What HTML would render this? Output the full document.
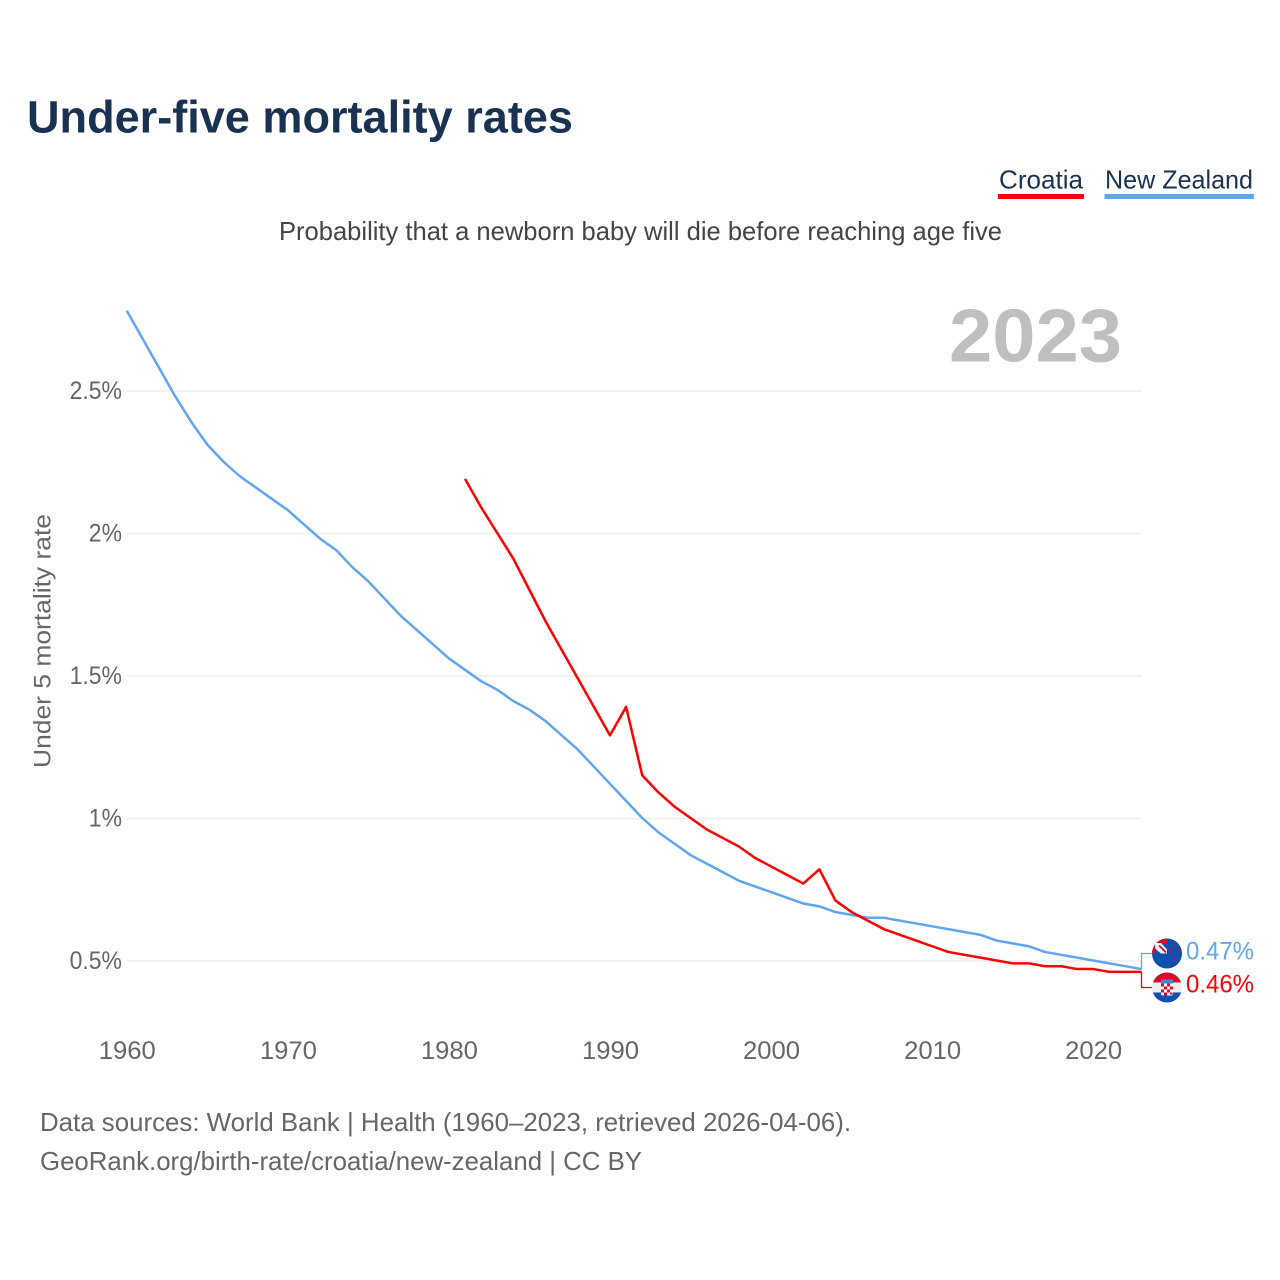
<!DOCTYPE html>
<html lang="en">
<head>
<meta charset="utf-8">
<title>Under-five mortality rates</title>
<style>
html,body{margin:0;padding:0;background:#fff;}
svg{display:block;font-family:"Liberation Sans",sans-serif;}
</style>
</head>
<body>
<svg id="chart" xmlns="http://www.w3.org/2000/svg" width="1280" height="1280" viewBox="0 0 1280 1280">
  <defs>
    <clipPath id="clip-nz"><circle cx="0" cy="0" r="15"/></clipPath>
    <clipPath id="clip-hr"><circle cx="0" cy="0" r="15"/></clipPath>
  </defs>
  <rect width="1280" height="1280" fill="#fff"/>
  <text x="27" y="132.500" font-size="45" font-weight="700" fill="#1a3252" textLength="546" lengthAdjust="spacingAndGlyphs">Under-five mortality rates</text>

  <g>
    <text x="999" y="188.500" font-size="26" fill="#1a3252" textLength="84" lengthAdjust="spacingAndGlyphs">Croatia</text>
    <rect x="998" y="194" width="86" height="5" fill="#ff0000"/>
  </g>
  <g>
    <text x="1105" y="188.500" font-size="26" fill="#1a3252" textLength="148" lengthAdjust="spacingAndGlyphs">New Zealand</text>
    <rect x="1104.500" y="194" width="149.500" height="5" fill="#60a5f0"/>
  </g>

  <text x="279" y="240" font-size="26" fill="#444" textLength="723" lengthAdjust="spacingAndGlyphs">Probability that a newborn baby will die before reaching age five</text>
  <text x="949" y="361.500" font-size="75" font-weight="700" fill="#bfbfbf" textLength="173" lengthAdjust="spacingAndGlyphs">2023</text>

  <g id="grid"></g>
  <g id="y-axis"></g>
  <g id="x-axis"></g>
  <text transform="translate(50.500,641) rotate(-90)" text-anchor="middle" font-size="24.500" fill="#666" textLength="254" lengthAdjust="spacingAndGlyphs">Under 5 mortality rate</text>

  <g id="series"></g>
  <g id="connectors"></g>

  <g id="flag-nz">
    <g clip-path="url(#clip-nz)">
      <rect x="-15" y="-15" width="30" height="30" fill="#0b4fb0"/>
      <rect x="-15" y="-15" width="15" height="15" fill="#d80a2e"/>
      <rect x="-12" y="-10.500" width="12" height="10.500" fill="#f2f2f2"/>
      <path d="M-8-8L-1-1" stroke="#d80a2e" stroke-width="1.800"/>
      <path d="M-6-10.500H0V-4Z" fill="#0b4fb0"/>
      <path d="M-12-5L-6 0H-12Z" fill="#0b4fb0"/>
      <circle cx="3" cy="-2" r="1.300" fill="#d80a2e"/>
      <circle cx="11" cy="-2" r="1.300" fill="#d80a2e"/>
      <circle cx="7" cy="-7" r="1.300" fill="#d80a2e"/>
      <circle cx="7" cy="6" r="1.600" fill="#d80a2e"/>
    </g>
  </g>
  <g id="flag-hr">
    <g clip-path="url(#clip-hr)">
      <rect x="-15" y="-15" width="30" height="10" fill="#d80a2e"/>
      <rect x="-15" y="-5" width="30" height="10" fill="#eeeeee"/>
      <rect x="-15" y="5" width="30" height="10" fill="#0b4fb0"/>
      <rect x="-6" y="-8" width="12" height="4" fill="#5580c8"/>
      <rect x="-6" y="-4" width="12" height="12" rx="2" fill="#fff"/>
      <path d="M-6-4h3v3h-3zM0-4h3v3h-3zM-3-1h3v3h-3zM3-1h3v3h-3zM-6 2h3v3h-3zM0 2h3v3h-3zM-3 5h3v3h-3zM3 5h2.500v2h-2.500z" fill="#d80a2e"/>
    </g>
  </g>
  <text id="label-nz" x="1186" font-size="25" fill="#60a5f0" textLength="68" lengthAdjust="spacingAndGlyphs"></text>
  <text id="label-hr" x="1186" font-size="25" fill="#ff0000" textLength="68" lengthAdjust="spacingAndGlyphs"></text>

  <g>
    <text x="40" y="1131" font-size="26" fill="#666" textLength="811" lengthAdjust="spacingAndGlyphs">Data sources: World Bank | Health (1960–2023, retrieved 2026-04-06).</text>
    <text x="40" y="1170" font-size="26" fill="#666" textLength="602" lengthAdjust="spacingAndGlyphs">GeoRank.org/birth-rate/croatia/new-zealand | CC BY</text>
  </g>
</svg>
<script>
const yTicks = [0.5, 1, 1.5, 2, 2.5];
const yTickLabels = ['0.5%', '1%', '1.5%', '2%', '2.5%'];
const xTicks = [1960, 1970, 1980, 1990, 2000, 2010, 2020];
const nzStartYear = 1960;
const nzValues = [2.78,2.68,2.58,2.48,2.39,2.31,2.25,2.20,2.16,2.12,2.08,2.03,1.98,1.94,1.88,1.83,1.77,1.71,1.66,1.61,1.56,1.52,1.48,1.45,1.41,1.38,1.34,1.29,1.24,1.18,1.12,1.06,1.00,0.95,0.91,0.87,0.84,0.81,0.78,0.76,0.74,0.72,0.70,0.69,0.67,0.66,0.65,0.65,0.64,0.63,0.62,0.61,0.60,0.59,0.57,0.56,0.55,0.53,0.52,0.51,0.50,0.49,0.48,0.47];
const hrStartYear = 1981;
const hrValues = [2.19,2.09,2.00,1.91,1.80,1.69,1.59,1.49,1.39,1.29,1.39,1.15,1.09,1.04,1.00,0.96,0.93,0.90,0.86,0.83,0.80,0.77,0.82,0.71,0.67,0.64,0.61,0.59,0.57,0.55,0.53,0.52,0.51,0.50,0.49,0.49,0.48,0.48,0.47,0.47,0.46,0.46,0.46];

const NS = 'http://www.w3.org/2000/svg';
function xScale(year) { return 126.8 + (year - 1960) * (1141.5 - 126.8) / 63; }
function yScale(v) { return 960.5 - (v - 0.5) * 285; }
function gridY(v) { return 961 - (v - 0.5) * 285; }
function toPoints(startYear, values) {
  return values.map(function (v, i) {
    return xScale(startYear + i).toFixed(2) + ',' + yScale(v).toFixed(2);
  }).join(' ');
}
function make(tag, parent) {
  const el = document.createElementNS(NS, tag);
  parent.appendChild(el);
  return el;
}

const grid = document.getElementById('grid');
const yAxis = document.getElementById('y-axis');
yTicks.forEach(function (t, i) {
  const line = make('line', grid);
  
  
  line.setAttribute('x1', 127);
  line.setAttribute('x2', 1141.5);
  line.setAttribute('y1', gridY(t));
  line.setAttribute('y2', gridY(t));
  line.setAttribute('stroke', '#eeeeee');
  line.setAttribute('stroke-width', 1.5);
  const label = make('text', yAxis);
  
  
  label.setAttribute('x', 122);
  label.setAttribute('y', gridY(t) + 8);
  label.setAttribute('text-anchor', 'end');
  label.setAttribute('font-size', 25);
  label.setAttribute('fill', '#666');
  label.textContent = yTickLabels[i];
  label.setAttribute('textLength', (label.getComputedTextLength() * 0.92).toFixed(1));
  label.setAttribute('lengthAdjust', 'spacingAndGlyphs');
});

const xAxis = document.getElementById('x-axis');
xTicks.forEach(function (t) {
  const label = make('text', xAxis);
  
  
  label.setAttribute('x', xScale(t) + 0.5);
  label.setAttribute('y', 1059);
  label.setAttribute('text-anchor', 'middle');
  label.setAttribute('font-size', 25);
  label.setAttribute('fill', '#666');
  label.setAttribute('textLength', 57);
  label.setAttribute('lengthAdjust', 'spacingAndGlyphs');
  label.textContent = String(t);
});

const series = document.getElementById('series');
const nzLine = make('polyline', series);


nzLine.setAttribute('points', toPoints(nzStartYear, nzValues));
nzLine.setAttribute('fill', 'none');
nzLine.setAttribute('stroke', '#60a5f0');
nzLine.setAttribute('stroke-width', 2.5);
nzLine.setAttribute('stroke-linejoin', 'round');
const hrLine = make('polyline', series);


hrLine.setAttribute('points', toPoints(hrStartYear, hrValues));
hrLine.setAttribute('fill', 'none');
hrLine.setAttribute('stroke', '#ff0000');
hrLine.setAttribute('stroke-width', 2.5);
hrLine.setAttribute('stroke-linejoin', 'round');

const nzLast = nzValues[nzValues.length - 1];
const hrLast = hrValues[hrValues.length - 1];
const endMid = (yScale(nzLast) + yScale(hrLast)) / 2;
const nzAbove = nzLast >= hrLast;
const nzFlagY = endMid + (nzAbove ? -17 : 17);
const hrFlagY = endMid + (nzAbove ? 17 : -17);

document.getElementById('flag-nz').setAttribute('transform', 'translate(1167,' + nzFlagY + ')');
document.getElementById('flag-hr').setAttribute('transform', 'translate(1167,' + hrFlagY + ')');
const nzLabel = document.getElementById('label-nz');
nzLabel.setAttribute('y', nzFlagY + 6);
nzLabel.textContent = nzLast.toFixed(2) + '%';
const hrLabel = document.getElementById('label-hr');
hrLabel.setAttribute('y', hrFlagY + 5);
hrLabel.textContent = hrLast.toFixed(2) + '%';

const connectors = document.getElementById('connectors');
const nzConn = make('polyline', connectors);


nzConn.setAttribute('points', '1141.5,' + yScale(nzLast) + ' 1141.5,' + nzFlagY + ' 1153,' + nzFlagY);
nzConn.setAttribute('fill', 'none');
nzConn.setAttribute('stroke', '#60a5f0');
nzConn.setAttribute('stroke-width', 1.3);
const hrConn = make('polyline', connectors);


hrConn.setAttribute('points', '1141.5,' + yScale(hrLast) + ' 1141.5,' + hrFlagY + ' 1153,' + hrFlagY);
hrConn.setAttribute('fill', 'none');
hrConn.setAttribute('stroke', '#ff0000');
hrConn.setAttribute('stroke-width', 1.3);
</script>
</body>
</html>
